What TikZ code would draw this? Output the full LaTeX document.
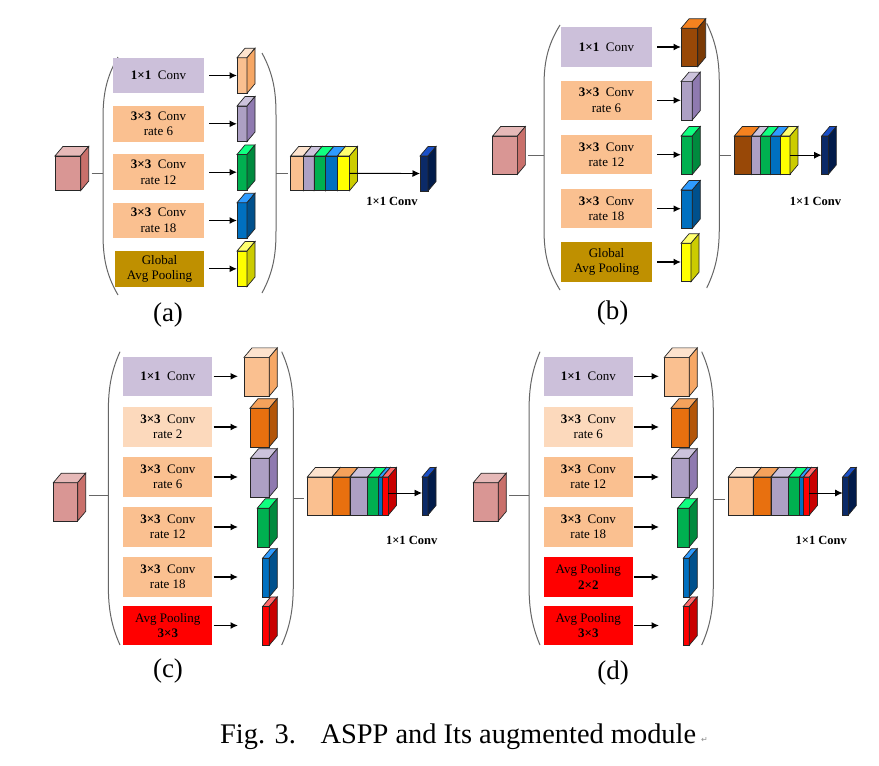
\documentclass[tikz,border=0pt]{standalone}
\usepackage{fontspec}
\setmainfont{Liberation Serif}
\newfontfamily\symfont{DejaVu Sans}
\usetikzlibrary{arrows.meta, positioning, calc}

\definecolor{inF}{HTML}{D99694}
\definecolor{inT}{HTML}{E6B9B8}
\definecolor{inS}{HTML}{C9706B}
\definecolor{peachF}{HTML}{FAC090}
\definecolor{peachT}{HTML}{FDE3CE}
\definecolor{peachS}{HTML}{F6A765}
\definecolor{lavF}{HTML}{ADA0C4}
\definecolor{lavT}{HTML}{CCC3DC}
\definecolor{lavS}{HTML}{8F7AB0}
\definecolor{greenF}{HTML}{00B050}
\definecolor{greenT}{HTML}{10FF80}
\definecolor{greenS}{HTML}{008A3E}
\definecolor{blueF}{HTML}{0070C0}
\definecolor{blueT}{HTML}{2E9BFF}
\definecolor{blueS}{HTML}{00508C}
\definecolor{yelF}{HTML}{FFFF00}
\definecolor{yelT}{HTML}{FFFF70}
\definecolor{yelS}{HTML}{CCCC00}
\definecolor{brownF}{HTML}{984807}
\definecolor{brownT}{HTML}{F5821F}
\definecolor{brownS}{HTML}{7A3A05}
\definecolor{orgF}{HTML}{E8700F}
\definecolor{orgT}{HTML}{F5A25C}
\definecolor{orgS}{HTML}{B35508}
\definecolor{redF}{HTML}{FF0000}
\definecolor{redT}{HTML}{FF6B6B}
\definecolor{redS}{HTML}{C80000}
\definecolor{navyF}{HTML}{0B2A68}
\definecolor{navyT}{HTML}{1A50C8}
\definecolor{navyS}{HTML}{011B4A}
\definecolor{lavBox}{HTML}{CCC0DA}
\definecolor{peachBox}{HTML}{FAC090}
\definecolor{lightBox}{HTML}{FCD9BC}
\definecolor{goldBox}{HTML}{BF9000}
\definecolor{redBox}{HTML}{FF0000}

\def\cdx{8}
\def\cdy{9.5}
% feature map: name, placement, width, height, colour prefix
\newcommand{\fmap}[5]{%
  \node[face, fill=#5F, minimum width=#3, minimum height=#4, #2] (#1) {};
  \filldraw[face, fill=#5T] (#1.north west) -- ++(\cdx,-\cdy) -- ++(#3,0) -- (#1.north east) -- cycle;
  \filldraw[face, fill=#5S] (#1.north east) -- ++(\cdx,-\cdy) -- ++(0,#4) -- (#1.south east) -- cycle;
}
% big round bracket: inner x, outer x, top y, bottom y
\newcommand{\branchparen}[4]{%
  \draw[brk] (#1,#3) .. controls ({#2+0.15*(#1-#2)},{#3+22}) and (#2,{#3+40}) .. (#2,{#3+62})
    -- (#2,{#4-62}) .. controls (#2,{#4-40}) and ({#2+0.15*(#1-#2)},{#4-22}) .. (#1,#4);
}

\begin{document}
\begin{tikzpicture}[x=1pt, y=-1pt,
  face/.style={draw=black!85, line width=0.7pt, inner sep=0pt, outer sep=0pt},
  opbox/.style={inner sep=0pt, minimum height=39.3, align=center, font=\fontsize{13}{15.5}\selectfont},
  link/.style={draw=black!60, line width=0.9pt},
  brk/.style={draw=black!60, line width=1pt},
  arr/.style={-{Latex[length=7.5pt,width=7pt]}, line width=1.3pt},
  outarr/.style={-{Latex[length=7.5pt,width=7pt]}, line width=0.9pt},
  tag/.style={font=\fontsize{12.5}{14}\selectfont\bfseries},
  sub/.style={font=\fontsize{27}{30}\selectfont}]
  \useasboundingbox[fill=white] (0,0) rectangle (879,766);

  % (a) ASPP
  \fmap{aIn}{at={(67.8,173.3)}}{25.7}{34.7}{in}
  \coordinate (aL) at (103,173.3);
  \coordinate (aR) at (276,173.3);
  \branchparen{118}{103}{57}{295}
  \branchparen{262}{276}{53}{293}
  \draw[link, shorten <=11pt] (aIn.east |- aL) -- (aL);

  \node[opbox, fill=lavBox, minimum width=91, minimum height=35.7] (aB1) at (158.5,75.5) {\textbf{1×1}\enspace Conv};
  \node[opbox, fill=peachBox, minimum width=91, minimum height=35.7] (aB2) at (158.5,123.8) {\textbf{3×3}\enspace Conv\\rate 6};
  \node[opbox, fill=peachBox, minimum width=91, minimum height=35.7] (aB3) at (158.5,172.2) {\textbf{3×3}\enspace Conv\\rate 12};
  \node[opbox, fill=peachBox, minimum width=91, minimum height=35.7] (aB4) at (158.5,220.5) {\textbf{3×3}\enspace Conv\\rate 18};
  \node[opbox, fill=goldBox, minimum width=89, minimum height=35.7] (aB5) at (159.5,268.8) {Global\\Avg Pooling};

  \fmap{aC1}{at={(242,75.5)}}{10}{35.5}{peach}
  \fmap{aC2}{at={(242,123.8)}}{10}{35.5}{lav}
  \fmap{aC3}{at={(242,172.2)}}{10}{35.5}{green}
  \fmap{aC4}{at={(242,220.5)}}{10}{35.5}{blue}
  \fmap{aC5}{at={(242,268.8)}}{10}{35.5}{yel}
  \foreach \i in {1,...,5}
    \draw[arr, shorten <=5pt] (aB\i.east) -- (aC\i.west);

  \fmap{aK1}{anchor=west, at={(290.7,173.3)}}{12.7}{34.7}{peach}
  \fmap{aK2}{right=0pt of aK1}{10.7}{34.7}{lav}
  \fmap{aK3}{right=0pt of aK2}{11.7}{34.7}{green}
  \fmap{aK4}{right=0pt of aK3}{11.7}{34.7}{blue}
  \fmap{aK5}{right=0pt of aK4}{12}{34.7}{yel}
  \draw[link, shorten >=3pt] (aR) -- (aR -| aK1.west);

  \fmap{aOut}{at={(424,173.5)}}{8}{35}{navy}
  \draw[outarr] (aK5.east) -- (aOut.west);
  \node[tag] (aTag) at (392,201) {1×1 Conv};
  \node[sub] (aSub) at (168,315) {(a)};

  % (b) ASPP with a wider 1x1 branch
  \fmap{bIn}{at={(505,155.2)}}{24.7}{38.3}{in}
  \coordinate (bL) at (544,155.7);
  \coordinate (bR) at (719.3,155.7);
  \branchparen{560}{544}{25}{290}
  \branchparen{706.7}{719.3}{23.3}{288}
  \draw[link, shorten <=11pt] (bIn.east |- bL) -- (bL);

  \node[opbox, fill=lavBox, minimum width=91] (bB1) at (606.5,47) {\textbf{1×1}\enspace Conv};
  \node[opbox, fill=peachBox, minimum width=91] (bB2) at (606.5,100.3) {\textbf{3×3}\enspace Conv\\rate 6};
  \node[opbox, fill=peachBox, minimum width=91] (bB3) at (606.5,154.7) {\textbf{3×3}\enspace Conv\\rate 12};
  \node[opbox, fill=peachBox, minimum width=91] (bB4) at (606.5,208.7) {\textbf{3×3}\enspace Conv\\rate 18};
  \node[opbox, fill=goldBox, minimum width=91] (bB5) at (606.5,262) {Global\\Avg Pooling};

  \fmap{bC1}{anchor=west, at={(681,47.5)}}{16.7}{38.4}{brown}
  \fmap{bC2}{anchor=west, at={(681,100.8)}}{11.3}{38.4}{lav}
  \fmap{bC3}{anchor=west, at={(681,155.2)}}{11.3}{38.4}{green}
  \fmap{bC4}{anchor=west, at={(681,209.2)}}{11.3}{38.4}{blue}
  \fmap{bC5}{anchor=west, at={(681,262.5)}}{10}{38.4}{yel}
  \foreach \i in {1,...,5}
    \draw[arr, shorten <=5pt] (bB\i.east) -- (bB\i.east -| bC\i.west);

  \fmap{bK1}{anchor=west, at={(734.3,155.2)}}{17.3}{38.3}{brown}
  \fmap{bK2}{right=0pt of bK1}{9}{38.3}{lav}
  \fmap{bK3}{right=0pt of bK2}{10}{38.3}{green}
  \fmap{bK4}{right=0pt of bK3}{10}{38.3}{blue}
  \fmap{bK5}{right=0pt of bK4}{9.3}{38.3}{yel}
  \draw[link, shorten >=3pt] (bR) -- (bR -| bK1.west);

  \fmap{bOut}{at={(825,155.2)}}{6.7}{38.3}{navy}
  \draw[outarr] (bK5.east) -- (bOut.west);
  \node[tag] (bTag) at (815.5,201) {1×1 Conv};
  \node[sub] (bSub) at (612.7,313.3) {(b)};

  % (c) augmented with rate 2 and 3x3 pooling
  \fmap{cIn}{at={(65.5,501.8)}}{24.3}{38.3}{in}
  \coordinate (cL) at (108.3,495.7);
  \coordinate (cR) at (293.3,498.3);
  \coordinate (cTip) at (238,0);
  \branchparen{120}{108.3}{351.7}{645}
  \branchparen{281.7}{293.3}{351.7}{645}
  \draw[link, shorten <=11pt] (cIn.east |- cL) -- (cL);

  \node[opbox, fill=lavBox, minimum width=89] (cB1) at (167.8,376.3) {\textbf{1×1}\enspace Conv};
  \node[opbox, fill=lightBox, minimum width=89] (cB2) at (167.8,427) {\textbf{3×3}\enspace Conv\\rate 2};
  \node[opbox, fill=peachBox, minimum width=89] (cB3) at (167.8,477) {\textbf{3×3}\enspace Conv\\rate 6};
  \node[opbox, fill=peachBox, minimum width=89] (cB4) at (167.8,527) {\textbf{3×3}\enspace Conv\\rate 12};
  \node[opbox, fill=peachBox, minimum width=89] (cB5) at (167.8,577) {\textbf{3×3}\enspace Conv\\rate 18};
  \node[opbox, fill=redBox, minimum width=89] (cB6) at (167.8,625.5) {Avg Pooling\\\textbf{3×3}};

  \fmap{cC1}{anchor=east, at={(269.3,376.7)}}{25.3}{38.7}{peach}
  \fmap{cC2}{anchor=east, at={(269.3,427.5)}}{19.3}{38.7}{org}
  \fmap{cC3}{anchor=east, at={(269.3,477.5)}}{18.7}{38.7}{lav}
  \fmap{cC4}{anchor=east, at={(269.3,527.5)}}{12}{38.7}{green}
  \fmap{cC5}{anchor=east, at={(269.3,577.5)}}{6.7}{38.7}{blue}
  \fmap{cC6}{anchor=east, at={(269.3,625.8)}}{6.7}{38.7}{red}
  \foreach \i in {1,...,6}
    \draw[arr, shorten <=1pt] (cB\i.east) -- (cB\i.east -| cTip);

  \fmap{cK1}{anchor=west, at={(307.3,496)}}{25}{38}{peach}
  \fmap{cK2}{right=0pt of cK1}{17.7}{38}{org}
  \fmap{cK3}{right=0pt of cK2}{17.7}{38}{lav}
  \fmap{cK4}{right=0pt of cK3}{10.7}{38}{green}
  \fmap{cK5}{right=0pt of cK4}{4}{38}{blue}
  \fmap{cK6}{right=0pt of cK5}{6}{38}{red}
  \draw[link, shorten >=3pt] (cR) -- (cR -| cK1.west);

  \fmap{cOut}{at={(425,496)}}{6}{38}{navy}
  \draw[outarr] ([yshift=3pt]cK6.east) -- ([yshift=3pt]cOut.west);
  \node[tag] (cTag) at (411.7,540.5) {1×1 Conv};
  \node[sub] (cSub) at (168,671) {(c)};

  % (d) augmented with 2x2 and 3x3 pooling
  \fmap{dIn}{at={(485.8,501.8)}}{25}{38.3}{in}
  \coordinate (dL) at (529,495.7);
  \coordinate (dR) at (713.3,499);
  \coordinate (dTip) at (659,0);
  \branchparen{540}{529}{351.7}{645}
  \branchparen{701.7}{713.3}{351.7}{645}
  \draw[link, shorten <=11pt] (dIn.east |- dL) -- (dL);

  \node[opbox, fill=lavBox, minimum width=88.7] (dB1) at (588.3,376.3) {\textbf{1×1}\enspace Conv};
  \node[opbox, fill=lightBox, minimum width=88.7] (dB2) at (588.3,427) {\textbf{3×3}\enspace Conv\\rate 6};
  \node[opbox, fill=peachBox, minimum width=88.7] (dB3) at (588.3,477) {\textbf{3×3}\enspace Conv\\rate 12};
  \node[opbox, fill=peachBox, minimum width=88.7] (dB4) at (588.3,527) {\textbf{3×3}\enspace Conv\\rate 18};
  \node[opbox, fill=redBox, minimum width=88.7] (dB5) at (588.3,577) {Avg Pooling\\\textbf{2×2}};
  \node[opbox, fill=redBox, minimum width=88.7] (dB6) at (588.3,625.5) {Avg Pooling\\\textbf{3×3}};

  \fmap{dC1}{anchor=east, at={(689.3,376.7)}}{25}{38.7}{peach}
  \fmap{dC2}{anchor=east, at={(689.3,427.5)}}{18.3}{38.7}{org}
  \fmap{dC3}{anchor=east, at={(689.3,477.5)}}{17.7}{38.7}{lav}
  \fmap{dC4}{anchor=east, at={(689.3,527.5)}}{11.7}{38.7}{green}
  \fmap{dC5}{anchor=east, at={(689.3,577.5)}}{6}{38.7}{blue}
  \fmap{dC6}{anchor=east, at={(689.3,625.8)}}{6}{38.7}{red}
  \foreach \i in {1,...,6}
    \draw[arr, shorten <=1pt] (dB\i.east) -- (dB\i.east -| dTip);

  \fmap{dK1}{anchor=west, at={(728.3,496)}}{25}{38}{peach}
  \fmap{dK2}{right=0pt of dK1}{17.7}{38}{org}
  \fmap{dK3}{right=0pt of dK2}{17.7}{38}{lav}
  \fmap{dK4}{right=0pt of dK3}{10.7}{38}{green}
  \fmap{dK5}{right=0pt of dK4}{4}{38}{blue}
  \fmap{dK6}{right=0pt of dK5}{6}{38}{red}
  \draw[link, shorten >=3pt] (dR) -- (dR -| dK1.west);

  \fmap{dOut}{at={(845.5,496)}}{5.7}{38}{navy}
  \draw[outarr] ([yshift=3pt]dK6.east) -- ([yshift=3pt]dOut.west);
  \node[tag] (dTag) at (821.3,540.5) {1×1 Conv};
  \node[sub] (dSub) at (613,673) {(d)};

  % Caption
  \node[font=\fontsize{28.4}{32}\selectfont, anchor=base west, inner sep=0pt] (cap) at (220,743) {Fig. 3.\hspace{0.87em}ASPP and Its augmented module};
  \node[font=\symfont\fontsize{8}{8}\selectfont, text=black!45, anchor=base west, inner sep=0pt] (capMark) at (701,742) {↵};
\end{tikzpicture}
\end{document}
